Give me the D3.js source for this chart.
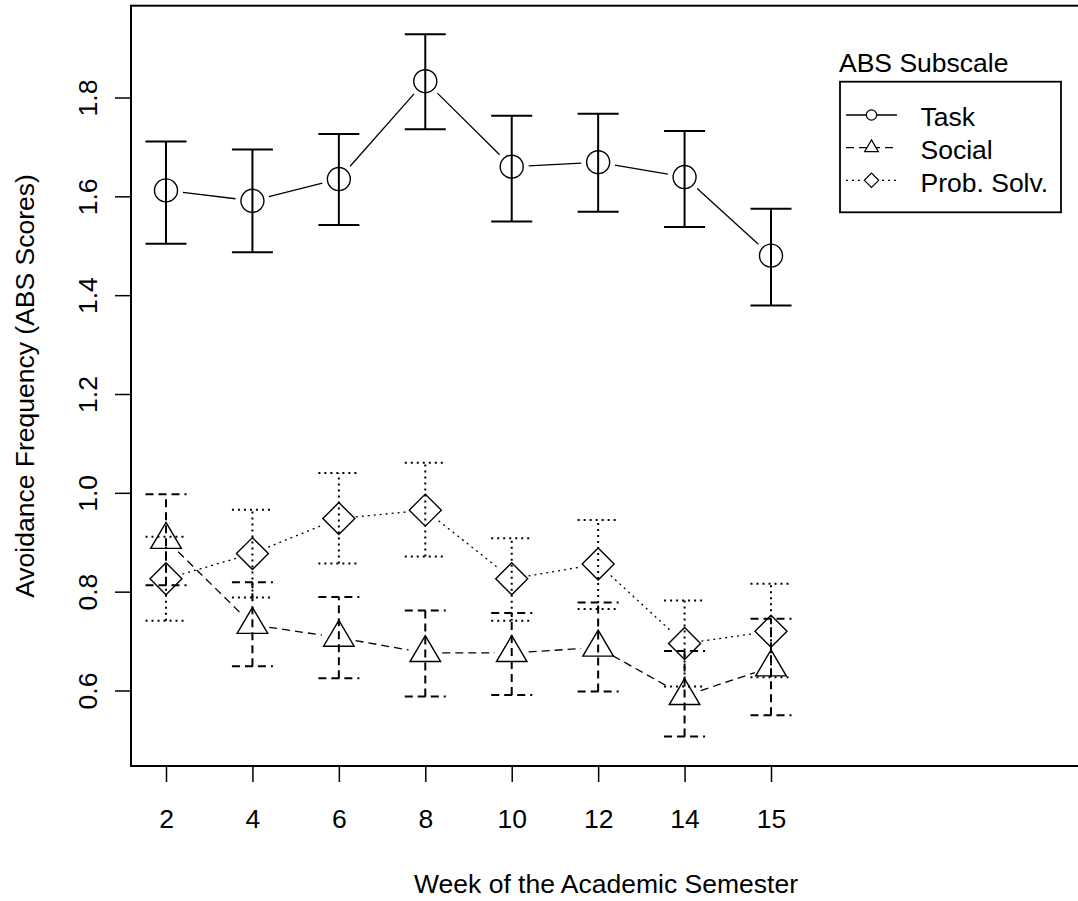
<!DOCTYPE html>
<html>
<head>
<meta charset="utf-8">
<script src="https://cdn.jsdelivr.net/npm/d3@7/dist/d3.min.js"></script>
<style>
  html, body { margin: 0; padding: 0; background: #fff; }
  svg { display: block; }
  text { font-family: "Liberation Sans", Arial, sans-serif; fill: #000; }
</style>
</head>
<body>
<svg id="chart" width="1078" height="901"></svg>
<script>
// ---- data ----
const weeks = ["2", "4", "6", "8", "10", "12", "14", "15"];
const yTicks = [0.6, 0.8, 1.0, 1.2, 1.4, 1.6, 1.8];

const task   = [1.612, 1.591, 1.635, 1.833, 1.660, 1.669, 1.639, 1.480];
const taskLo = [1.504, 1.487, 1.542, 1.736, 1.549, 1.569, 1.538, 1.379];
const taskHi = [1.711, 1.695, 1.726, 1.928, 1.763, 1.767, 1.732, 1.575];

const social   = [0.905, 0.733, 0.707, 0.676, 0.676, 0.687, 0.589, 0.647];
const socialLo = [0.813, 0.649, 0.625, 0.588, 0.591, 0.598, 0.507, 0.550];
const socialHi = [0.997, 0.819, 0.789, 0.762, 0.757, 0.778, 0.680, 0.745];

const prob   = [0.826, 0.877, 0.948, 0.965, 0.826, 0.856, 0.695, 0.720];
const probLo = [0.741, 0.788, 0.857, 0.871, 0.741, 0.765, 0.608, 0.627];
const probHi = [0.911, 0.966, 1.040, 1.061, 0.908, 0.945, 0.782, 0.816];

const legendLabels = ["Task", "Social", "Prob. Solv."];

// ---- layout ----
const svg = d3.select("#chart");
const box = { left: 131, top: 5.7, right: 1080, bottom: 766 };
const FS = "26.5px";

const x = d3.scaleLinear().domain([1, 8]).range([166, 771]);
const y = d3.scaleLinear().domain([0.6, 1.8]).range([690.5, 97.5]);

const series = [
  { name: legendLabels[0], v: task,   lo: taskLo,   hi: taskHi,   dash: null,  shape: "circle" },
  { name: legendLabels[1], v: social, lo: socialLo, hi: socialHi, dash: "8,5", shape: "triangle" },
  { name: legendLabels[2], v: prob,   lo: probLo,   hi: probHi,   dash: "2,4", shape: "diamond" }
];

function symbolPath(shape, cx, cy, s) {
  if (shape === "circle") {
    const r = 11.5 * s;
    return `M${cx - r},${cy}a${r},${r} 0 1,0 ${2 * r},0a${r},${r} 0 1,0 ${-2 * r},0Z`;
  }
  if (shape === "triangle") {
    const up = 17.3 * s, down = 8.6 * s, hw = 15.3 * s;
    return `M${cx},${cy - up}L${cx + hw},${cy + down}L${cx - hw},${cy + down}Z`;
  }
  const d = 16 * s;
  return `M${cx},${cy - d}L${cx + d},${cy}L${cx},${cy + d}L${cx - d},${cy}Z`;
}

// ---- series ----
const gap = 17;
series.forEach(s => {
  const g = svg.append("g");
  const pts = s.v.map((v, i) => [x(i + 1), y(v)]);
  // connecting lines with gaps (type = "b")
  for (let i = 0; i < pts.length - 1; i++) {
    const [x0, y0] = pts[i], [x1, y1] = pts[i + 1];
    const L = Math.hypot(x1 - x0, y1 - y0);
    const ux = (x1 - x0) / L, uy = (y1 - y0) / L;
    g.append("line")
      .attr("x1", x0 + ux * gap).attr("y1", y0 + uy * gap)
      .attr("x2", x1 - ux * gap).attr("y2", y1 - uy * gap)
      .attr("stroke", "#000").attr("stroke-width", 1.3)
      .attr("stroke-dasharray", s.dash);
  }
  // error bars
  s.v.forEach((v, i) => {
    const cx = x(i + 1);
    g.append("line")
      .attr("x1", cx).attr("x2", cx)
      .attr("y1", y(s.lo[i])).attr("y2", y(s.hi[i]))
      .attr("stroke", "#000").attr("stroke-width", 2)
      .attr("stroke-dasharray", s.dash);
    [s.lo[i], s.hi[i]].forEach(e => {
      g.append("line")
        .attr("x1", cx - 20.5).attr("x2", cx + 20.5)
        .attr("y1", y(e)).attr("y2", y(e))
        .attr("stroke", "#000").attr("stroke-width", 2)
        .attr("stroke-dasharray", s.dash);
    });
  });
  // symbols
  g.selectAll("path.sym").data(pts).join("path")
    .attr("class", "sym")
    .attr("d", p => symbolPath(s.shape, p[0], p[1], 1))
    .attr("fill", "none").attr("stroke", "#000").attr("stroke-width", 1.4);
});

// ---- box ----
svg.append("rect")
  .attr("x", box.left).attr("y", box.top)
  .attr("width", box.right - box.left).attr("height", box.bottom - box.top)
  .attr("fill", "none").attr("stroke", "#000").attr("stroke-width", 2);

// ---- axes ----
const xAxis = d3.axisBottom(x)
  .tickValues(d3.range(1, weeks.length + 1))
  .tickFormat(d => weeks[d - 1])
  .tickSize(16).tickPadding(0);
const gx = svg.append("g").attr("transform", `translate(0,${box.bottom})`).call(xAxis);
gx.select(".domain").remove();
gx.selectAll(".tick line").attr("stroke", "#000").attr("stroke-width", 1.5);
gx.selectAll(".tick text").attr("y", 62).attr("dy", null)
  .style("font-size", FS).style("font-family", "'Liberation Sans', Arial, sans-serif");

const yAxis = d3.axisLeft(y).tickValues(yTicks).tickFormat(d3.format(".1f")).tickSize(16);
const gy = svg.append("g").attr("transform", `translate(${box.left},0)`).call(yAxis);
gy.select(".domain").remove();
gy.selectAll(".tick line").attr("stroke", "#000").attr("stroke-width", 1.5);
gy.selectAll(".tick text")
  .attr("x", null).attr("dy", null)
  .attr("text-anchor", "middle")
  .attr("transform", "translate(-34.5,0) rotate(-90)")
  .style("font-size", FS).style("font-family", "'Liberation Sans', Arial, sans-serif");

// ---- titles ----
svg.append("text")
  .attr("x", 606).attr("y", 893)
  .attr("text-anchor", "middle").style("font-size", FS)
  .text("Week of the Academic Semester");

svg.append("text")
  .attr("transform", "translate(33.5,386) rotate(-90)")
  .attr("text-anchor", "middle").style("font-size", FS)
  .text("Avoidance Frequency (ABS Scores)");

// ---- legend ----
const lg = svg.append("g");
lg.append("text").attr("x", 839).attr("y", 72).style("font-size", FS).text("ABS Subscale");
lg.append("rect").attr("x", 840).attr("y", 81.7).attr("width", 221).attr("height", 130.6)
  .attr("fill", "#fff").attr("stroke", "#000").attr("stroke-width", 1.8);
const rows = [115, 147.7, 180.3];
series.forEach((s, i) => {
  const ry = rows[i];
  lg.append("line").attr("x1", 846).attr("x2", 897).attr("y1", ry).attr("y2", ry)
    .attr("stroke", "#000").attr("stroke-width", 1.3).attr("stroke-dasharray", s.dash);
  lg.append("path").attr("d", symbolPath(s.shape, 871.5, ry, 0.45))
    .attr("fill", "#fff").attr("stroke", "#000").attr("stroke-width", 1.2);
  lg.append("text").attr("x", 920.5).attr("y", ry + 11.3).style("font-size", FS).text(s.name);
});
</script>
</body>
</html>
